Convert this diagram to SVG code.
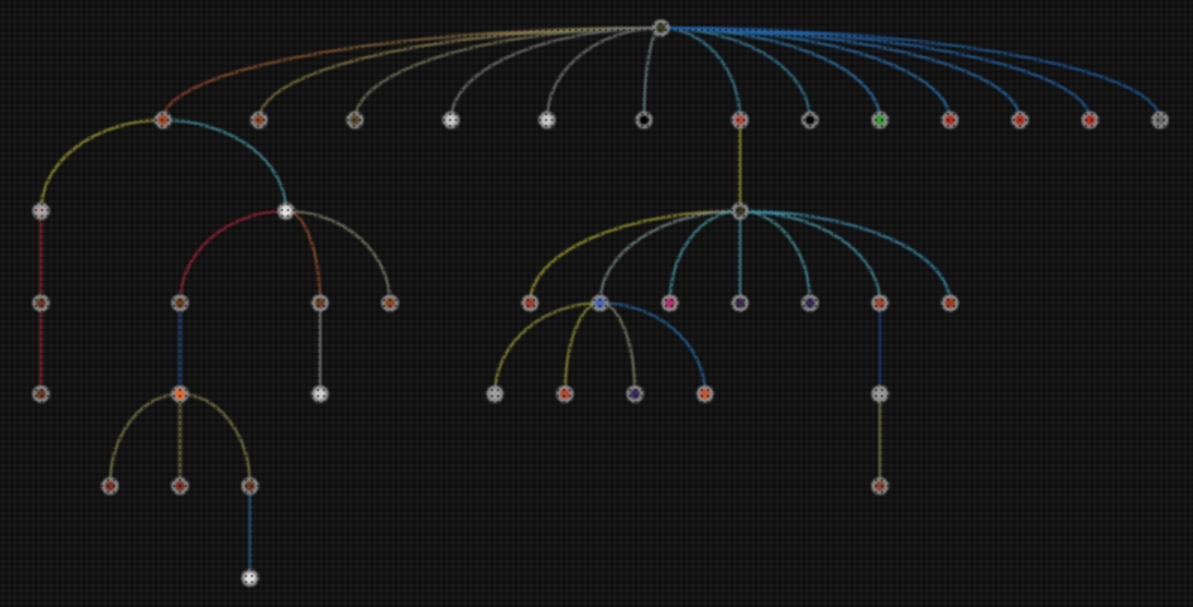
<svg xmlns="http://www.w3.org/2000/svg" width="1193" height="607" viewBox="0 0 1193 607">
<defs>
<pattern id="bg" width="6" height="6" patternUnits="userSpaceOnUse">
<rect width="6" height="6" fill="#131313"/>
<circle cx="3" cy="3" r="1.6" fill="#1a1a1a"/>
</pattern>
<pattern id="dots" width="6" height="6" patternUnits="userSpaceOnUse">
<circle cx="0" cy="0" r="1.5" fill="#000" fill-opacity="0.4"/>
<circle cx="6" cy="0" r="1.5" fill="#000" fill-opacity="0.4"/>
<circle cx="0" cy="6" r="1.5" fill="#000" fill-opacity="0.4"/>
<circle cx="6" cy="6" r="1.5" fill="#000" fill-opacity="0.4"/>
</pattern>
<filter id="soft" x="-5%" y="-5%" width="110%" height="110%">
<feGaussianBlur stdDeviation="0.8"/>
</filter>
<linearGradient id="g163" gradientUnits="userSpaceOnUse" x1="163" y1="120" x2="661" y2="28">
<stop offset="0" stop-color="#9a4a2a"/>
<stop offset="0.5" stop-color="#8f6a40"/>
<stop offset="1" stop-color="#a29460"/>
</linearGradient>
<linearGradient id="g259" gradientUnits="userSpaceOnUse" x1="259" y1="120" x2="661" y2="28">
<stop offset="0" stop-color="#8c7a40"/>
<stop offset="1" stop-color="#9a9a70"/>
</linearGradient>
</defs>
<style>
.l{fill:none;stroke-width:2.6;stroke-opacity:0.8}
.n circle{stroke:#8a8a8a;stroke-width:3.4}
</style>
<rect width="1193" height="607" fill="url(#bg)"/>
<g filter="url(#soft)">
<g id="connectors">
<path class="l" stroke="url(#g163)" d="M661,28 A498,92 0 0 0 163,120"/>
<path class="l" stroke="url(#g259)" d="M661,28 A402,92 0 0 0 259,120"/>
<path class="l" stroke="#7e7e62" d="M661,28 A306,92 0 0 0 355,120"/>
<path class="l" stroke="#7a7a7a" d="M661,28 A210,92 0 0 0 451,120"/>
<path class="l" stroke="#7a7e80" d="M661,28 A114,92 0 0 0 547,120"/>
<path class="l" stroke="#6f8a8c" d="M661,28 A17,92 0 0 0 644,120"/>
<path class="l" stroke="#3f8aa0" d="M661,28 A79,92 0 0 1 740,120"/>
<path class="l" stroke="#3a84a8" d="M661,28 A149,92 0 0 1 810,120"/>
<path class="l" stroke="#2f7cb8" d="M661,28 A219,92 0 0 1 880,120"/>
<path class="l" stroke="#2a74b8" d="M661,28 A289,92 0 0 1 950,120"/>
<path class="l" stroke="#2a70b4" d="M661,28 A359,92 0 0 1 1020,120"/>
<path class="l" stroke="#2568b0" d="M661,28 A429,92 0 0 1 1090,120"/>
<path class="l" stroke="#2262aa" d="M661,28 A499,92 0 0 1 1160,120"/>
<path class="l" stroke="#a9a238" d="M163,120 A122,91 0 0 0 41,211"/>
<path class="l" stroke="#4b9aa8" d="M163,120 A123,91 0 0 1 286,211"/>
<path class="l" stroke="#a2263c" d="M41,211 L41,303"/>
<path class="l" stroke="#a2263c" d="M41,303 L41,394"/>
<path class="l" stroke="#a2263c" d="M286,211 A106,92 0 0 0 180,303"/>
<path class="l" stroke="#9a5230" d="M286,211 A34,92 0 0 1 320,303"/>
<path class="l" stroke="#8a8670" d="M286,211 A104,92 0 0 1 390,303"/>
<path class="l" stroke="#2a5a9e" d="M180,303 L180,394"/>
<path class="l" stroke="#8a8a8a" d="M320,303 L320,394"/>
<path class="l" stroke="#8a8650" d="M180,394 A70,92 0 0 0 110,486"/>
<path class="l" stroke="#8a8650" d="M180,394 L180,486"/>
<path class="l" stroke="#8a8650" d="M180,394 A70,92 0 0 1 250,486"/>
<path class="l" stroke="#2a6a9c" d="M250,486 L250,578"/>
<path class="l" stroke="#a4a038" d="M740,120 L740,211"/>
<path class="l" stroke="#a9a238" d="M740,211 A210,92 0 0 0 530,303"/>
<path class="l" stroke="#7a9490" d="M740,211 A140,92 0 0 0 600,303"/>
<path class="l" stroke="#4b9aa8" d="M740,211 A70,92 0 0 0 670,303"/>
<path class="l" stroke="#4b9aa8" d="M740,211 L740,303"/>
<path class="l" stroke="#4b9aa8" d="M740,211 A70,92 0 0 1 810,303"/>
<path class="l" stroke="#4b9aa8" d="M740,211 A140,92 0 0 1 880,303"/>
<path class="l" stroke="#3f8eb0" d="M740,211 A210,92 0 0 1 950,303"/>
<path class="l" stroke="#9a9840" d="M600,303 A105,91 0 0 0 495,394"/>
<path class="l" stroke="#9a9840" d="M600,303 A35,91 0 0 0 565,394"/>
<path class="l" stroke="#8a8a70" d="M600,303 A35,91 0 0 1 635,394"/>
<path class="l" stroke="#2a6aa8" d="M600,303 A105,91 0 0 1 705,394"/>
<path class="l" stroke="#1f3f90" d="M880,303 L880,394"/>
<path class="l" stroke="#8a8650" d="M880,394 L880,486"/>
</g>
<g id="nodes">
<g id="n-root" class="n"><circle cx="661" cy="28" r="7" fill="#3a4020"/></g>
<g id="n1-163" class="n"><circle cx="163" cy="120" r="7" fill="#a04a28"/></g>
<g id="n1-259" class="n"><circle cx="259" cy="120" r="7" fill="#8a4a2a"/></g>
<g id="n1-355" class="n"><circle cx="355" cy="120" r="7" fill="#5a4a30"/></g>
<g id="n1-451" class="n"><circle cx="451" cy="120" r="7" fill="#c8c8c8"/></g>
<g id="n1-547" class="n"><circle cx="547" cy="120" r="7" fill="#c8c8c8"/></g>
<g id="n1-644" class="n"><circle cx="644" cy="120" r="7" fill="#000"/></g>
<g id="n1-740" class="n"><circle cx="740" cy="120" r="7" fill="#b05040"/></g>
<g id="n1-810" class="n"><circle cx="810" cy="120" r="7" fill="#000"/></g>
<g id="n1-880" class="n"><circle cx="880" cy="120" r="7" fill="#3a9a3a"/></g>
<g id="n1-950" class="n"><circle cx="950" cy="120" r="7" fill="#b03020"/></g>
<g id="n1-1020" class="n"><circle cx="1020" cy="120" r="7" fill="#b03020"/></g>
<g id="n1-1090" class="n"><circle cx="1090" cy="120" r="7" fill="#b03020"/></g>
<g id="n1-1160" class="n"><circle cx="1160" cy="120" r="7" fill="#6a6a6a"/></g>
<g id="n2-41" class="n"><circle cx="41" cy="211" r="7" fill="#b0a0a0"/></g>
<g id="n2-286" class="n"><circle cx="286" cy="211" r="7" fill="#e0e0e0"/></g>
<g id="n2-740" class="n"><circle cx="740" cy="211" r="7" fill="#3a3a20"/></g>
<g id="n3-41" class="n"><circle cx="41" cy="303" r="7" fill="#6a3a20"/></g>
<g id="n3-180" class="n"><circle cx="180" cy="303" r="7" fill="#6a4020"/></g>
<g id="n3-320" class="n"><circle cx="320" cy="303" r="7" fill="#6a4020"/></g>
<g id="n3-390" class="n"><circle cx="390" cy="303" r="7" fill="#8a4a20"/></g>
<g id="n3-530" class="n"><circle cx="530" cy="303" r="7" fill="#a04030"/></g>
<g id="n3-600" class="n"><circle cx="600" cy="303" r="7" fill="#4a6ab0"/></g>
<g id="n3-670" class="n"><circle cx="670" cy="303" r="7" fill="#b03070"/></g>
<g id="n3-740" class="n"><circle cx="740" cy="303" r="7" fill="#3a2a4a"/></g>
<g id="n3-810" class="n"><circle cx="810" cy="303" r="7" fill="#3a2a5a"/></g>
<g id="n3-880" class="n"><circle cx="880" cy="303" r="7" fill="#a04a30"/></g>
<g id="n3-950" class="n"><circle cx="950" cy="303" r="7" fill="#a03a20"/></g>
<g id="n4-41" class="n"><circle cx="41" cy="394" r="7" fill="#6a3a20"/></g>
<g id="n4-180" class="n"><circle cx="180" cy="394" r="7" fill="#e06a30"/></g>
<g id="n4-320" class="n"><circle cx="320" cy="394" r="7" fill="#d0d0d0"/></g>
<g id="n4-495" class="n"><circle cx="495" cy="394" r="7" fill="#a0a0a0"/></g>
<g id="n4-565" class="n"><circle cx="565" cy="394" r="7" fill="#b04a30"/></g>
<g id="n4-635" class="n"><circle cx="635" cy="394" r="7" fill="#3a2a5a"/></g>
<g id="n4-705" class="n"><circle cx="705" cy="394" r="7" fill="#c05a30"/></g>
<g id="n4-880" class="n"><circle cx="880" cy="394" r="7" fill="#9a9a9a"/></g>
<g id="n5-110" class="n"><circle cx="110" cy="486" r="7" fill="#7a3020"/></g>
<g id="n5-180" class="n"><circle cx="180" cy="486" r="7" fill="#7a3020"/></g>
<g id="n5-250" class="n"><circle cx="250" cy="486" r="7" fill="#6a3a20"/></g>
<g id="n5-880" class="n"><circle cx="880" cy="486" r="7" fill="#8a4a30"/></g>
<g id="n6-250" class="n"><circle cx="250" cy="578" r="7" fill="#e0e0e0"/></g>
</g>
</g>
<rect width="1193" height="607" fill="url(#dots)"/>
</svg>
